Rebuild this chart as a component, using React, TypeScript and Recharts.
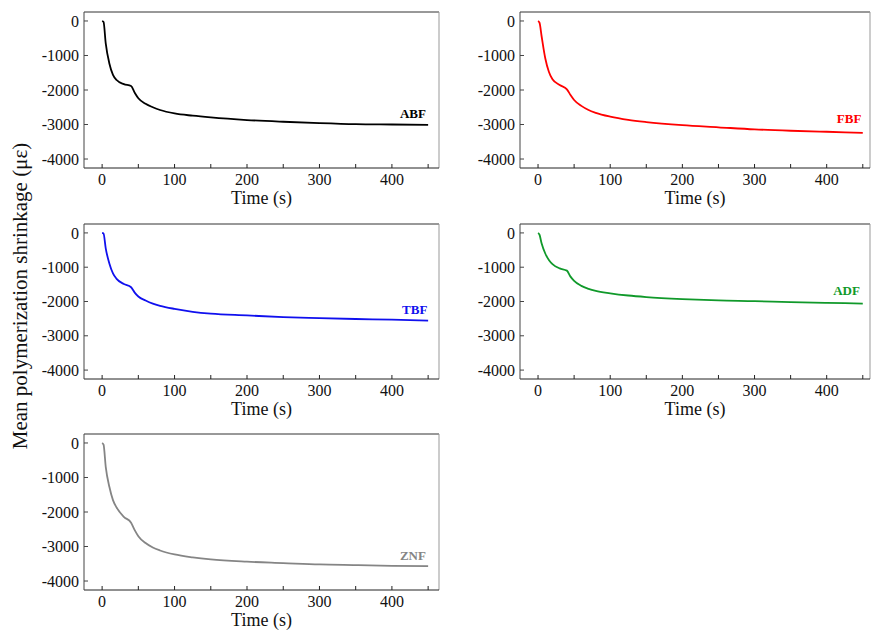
import React from "react";
import { LineChart, Line, XAxis, YAxis, ReferenceLine, ReferenceDot } from "recharts";

// time points (s), shared by all five curves
const time = [0, 2, 5, 10, 15, 20, 30, 40, 45, 50, 60, 70, 80, 100, 125, 150, 200, 250, 300, 350, 400, 450];

// mean shrinkage (µε)
const abf = [0, -30, -650, -1230, -1560, -1710, -1830, -1885, -2080, -2240, -2400, -2500, -2580, -2680, -2745, -2795, -2870, -2920, -2960, -2990, -3000, -3010];
const fbf = [0, -50, -450, -1080, -1470, -1690, -1855, -1980, -2145, -2290, -2460, -2580, -2660, -2770, -2865, -2930, -3020, -3080, -3140, -3180, -3210, -3240];
const tbf = [0, -20, -450, -890, -1180, -1340, -1490, -1585, -1740, -1855, -1970, -2060, -2125, -2215, -2300, -2355, -2405, -2455, -2485, -2510, -2530, -2560];
const adf = [0, -50, -310, -600, -790, -910, -1035, -1100, -1275, -1400, -1545, -1630, -1690, -1760, -1825, -1870, -1930, -1970, -1990, -2020, -2040, -2060];
const znf = [0, -50, -690, -1270, -1655, -1870, -2140, -2310, -2525, -2700, -2900, -3030, -3115, -3230, -3315, -3375, -3440, -3480, -3520, -3540, -3560, -3570];

const xTicks = [0, 50, 100, 150, 200, 250, 300, 350, 400, 450];
const yTicks = [0, -1000, -2000, -3000, -4000];

const FONT = "'Liberation Serif', 'Times New Roman', serif";
const Y_MIN = -4260;
const Y_MAX = 260;
const X_MIN = -25;

// serif tick labels drawn by hand so the font sticks
const XTick = (props: any) => {
  const { x, y, payload } = props;
  const v = payload.value as number;
  if (v % 100 !== 0) return null;
  return (
    <text x={x} y={y} dy="0.71em" textAnchor="middle" fill="#111" fontSize={16} fontFamily={FONT}>
      {v}
    </text>
  );
};

const YTick = (props: any) => {
  const { x, y, payload } = props;
  return (
    <text x={x} y={y} dy="0.35em" textAnchor="end" fill="#111" fontSize={16} fontFamily={FONT}>
      {payload.value}
    </text>
  );
};

interface PanelProps {
  name: string;
  values: number[];
  color: string;
  left: number; // plot-area left
  top: number; // plot-area top
  w: number;
  h: number;
  xMax: number;
  labelAt: [number, number];
}

const Panel = ({ name, values, color, left, top, w, h, xMax, labelAt }: PanelProps) => {
  const data = time.map((t, i) => ({ t, v: values[i] }));
  const axisW = 70;
  return (
    <div style={{ position: "absolute", left: left - axisW, top: top - 10 }}>
      <LineChart
        width={axisW + w + 1}
        height={h + 10 + 45}
        data={data}
        margin={{ top: 10, right: 1, left: 0, bottom: 0 }}
      >
        <XAxis
          dataKey="t"
          type="number"
          domain={[X_MIN, xMax]}
          ticks={xTicks}
          height={45}
          tickSize={-4}
          tickMargin={10}
          stroke="#222"
          tick={<XTick />}
          label={{ value: "Time (s)", position: "insideBottom", offset: 9, fill: "#111", fontSize: 18, fontFamily: FONT }}
          allowDataOverflow
        />
        <YAxis
          type="number"
          domain={[Y_MIN, Y_MAX]}
          ticks={yTicks}
          width={axisW}
          tickSize={-4}
          tickMargin={9}
          stroke="#444"
          tick={<YTick />}
          allowDataOverflow
        />
        <ReferenceLine y={Y_MAX} stroke="#333" strokeWidth={1} />
        <ReferenceLine x={xMax} stroke="#999" strokeWidth={1} />
        <Line
          type="monotone"
          dataKey="v"
          stroke={color}
          strokeWidth={1.8}
          dot={false}
          isAnimationActive={false}
        />
        <ReferenceDot
          x={labelAt[0]}
          y={labelAt[1]}
          r={0}
          fill="none"
          stroke="none"
          label={{ value: name, position: "left", offset: 0, fill: color, fontSize: 13, fontWeight: "bold", fontFamily: FONT }}
        />
      </LineChart>
    </div>
  );
};

export default function App() {
  return (
    <div style={{ position: "absolute", left: 0, top: 0, width: 871, height: 632, background: "#fff", overflow: "hidden" }}>
      <Panel name="ABF" values={abf} color="#000000" left={84} top={12} w={355} h={156} xMax={465} labelAt={[447, -2670]} />
      <Panel name="FBF" values={fbf} color="#ff0000" left={520} top={12} w={350} h={156} xMax={460} labelAt={[448, -2810]} />
      <Panel name="TBF" values={tbf} color="#1010ee" left={84} top={224} w={355} h={155} xMax={465} labelAt={[449, -2220]} />
      <Panel name="ADF" values={adf} color="#10992a" left={520} top={224} w={350} h={155} xMax={460} labelAt={[446, -1690]} />
      <Panel name="ZNF" values={znf} color="#858585" left={84} top={434} w={355} h={156} xMax={465} labelAt={[447, -3255]} />
      <svg width={40} height={632} style={{ position: "absolute", left: 0, top: 0 }}>
        <text
          x={0}
          y={0}
          transform="translate(27, 296) rotate(-90)"
          textAnchor="middle"
          fill="#111"
          fontSize={21}
          fontFamily={FONT}
        >
          Mean polymerization shrinkage (με)
        </text>
      </svg>
    </div>
  );
}
